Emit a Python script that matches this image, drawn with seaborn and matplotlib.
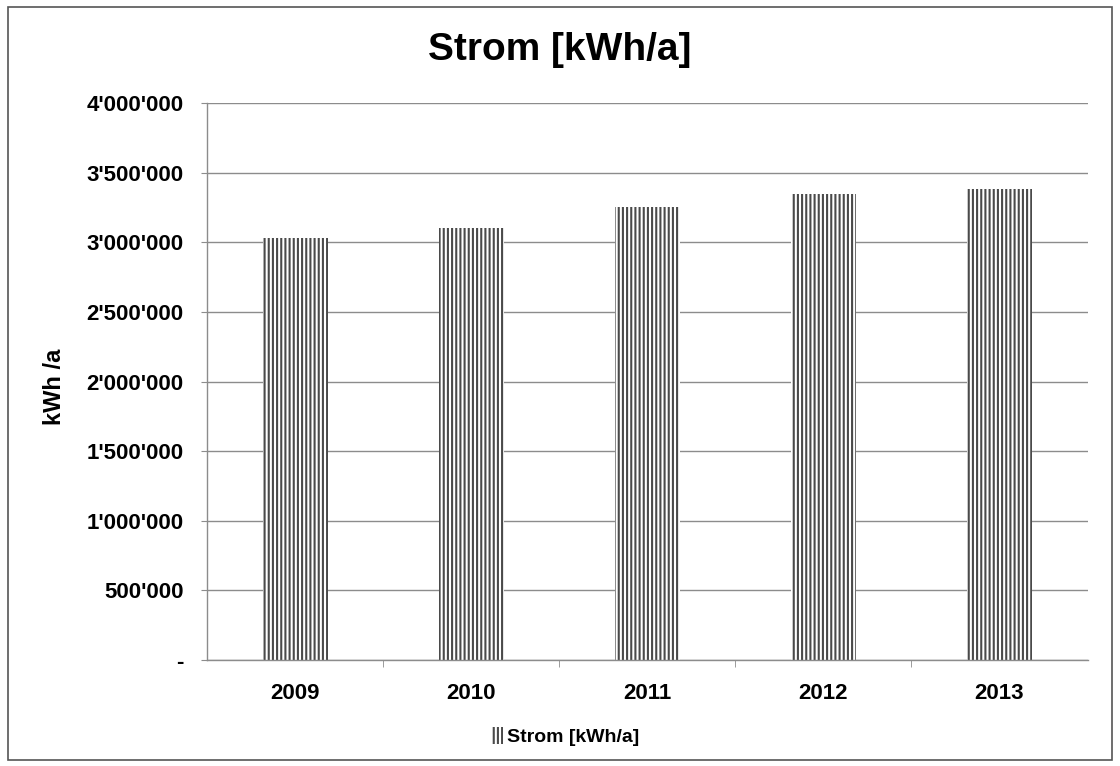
import matplotlib
matplotlib.use("Agg")
import matplotlib.pyplot as plt
import matplotlib.ticker as mticker
import seaborn as sns
import pandas as pd

# data
years = ["2009", "2010", "2011", "2012", "2013"]
strom = [3030000, 3105000, 3250000, 3350000, 3385000]
yticks = [0, 500000, 1000000, 1500000, 2000000, 2500000, 3000000, 3500000, 4000000]

df = pd.DataFrame({"Jahr": years, "Strom": strom})

sns.set_style("white")
plt.rcParams["font.family"] = ["Liberation Sans", "DejaVu Sans"]
plt.rcParams["hatch.linewidth"] = 1.5
plt.rcParams["text.color"] = "black"

fig = plt.figure(figsize=(11.2, 7.66), dpi=100)
ax = fig.add_axes([0.185, 0.1384, 0.786, 0.7271])

sns.barplot(data=df, x="Jahr", y="Strom", color="white", width=0.37,
            edgecolor="#4a4a4a", linewidth=0, label="Strom [kWh/a]", ax=ax)
for p in ax.patches:
    p.set_hatch("||||")

ax.set_ylim(0, 4000000)
ax.set_xlim(-0.5, 4.5)
ax.set_yticks(yticks)


def fmt(v, pos):
    if v == 0:
        return "-"
    return f"{int(v):,}".replace(",", "'")


ax.yaxis.set_major_formatter(mticker.FuncFormatter(fmt))
ax.yaxis.grid(True, color="#8c8c8c", linewidth=1.0)
ax.set_axisbelow(True)
for s in ["top", "right"]:
    ax.spines[s].set_visible(False)
for s in ["left", "bottom"]:
    ax.spines[s].set_color("#8c8c8c")
    ax.spines[s].set_linewidth(1.0)

ax.tick_params(axis="y", left=True, length=4, color="#8c8c8c", labelsize=16,
               labelcolor="black", pad=13)
ax.tick_params(axis="x", bottom=False, labelsize=16, labelcolor="black", pad=13)
ax.set_xticks([0.5, 1.5, 2.5, 3.5], minor=True)
ax.tick_params(axis="x", which="minor", bottom=True, length=5, color="#8c8c8c")
for lbl in ax.get_xticklabels() + ax.get_yticklabels():
    lbl.set_fontweight("bold")

ax.set_xlabel("")
ax.set_ylabel("kWh /a", fontsize=17, fontweight="bold", color="black")
ax.yaxis.set_label_coords(-0.16, 0.49)

fig.text(0.5, 0.935, "Strom [kWh/a]", ha="center", va="center",
         fontsize=28, fontweight="bold", color="black")

leg = ax.legend(loc="center", bbox_to_anchor=(0.407, -0.138), frameon=False,
                handlelength=0.6, handleheight=0.9, handletextpad=0.2,
                prop={"size": 14, "weight": "bold"})

# outer chart border
fig.patches.append(plt.Rectangle((0.007, 0.008), 0.986, 0.983, transform=fig.transFigure,
                                 fill=False, edgecolor="#555555", linewidth=1.2))

fig.savefig("out.png", dpi=100)
